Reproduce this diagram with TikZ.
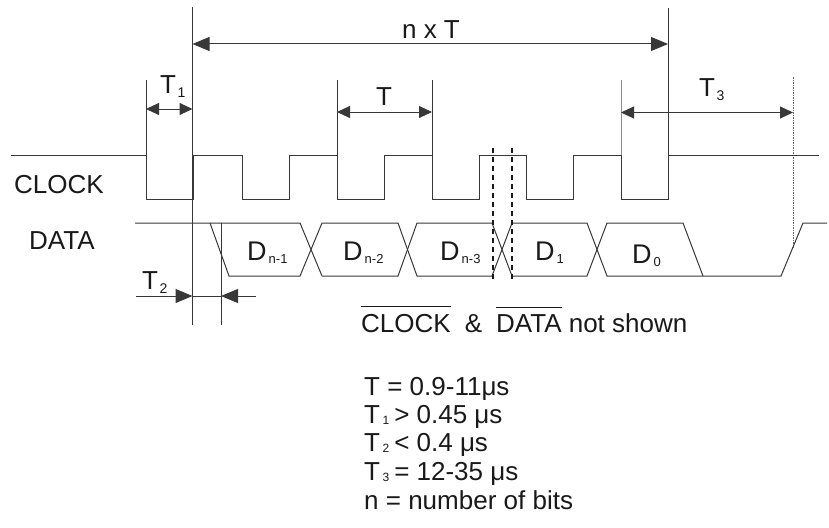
\documentclass[tikz,border=0pt]{standalone}
\usepackage{fontspec}
\setmainfont{Liberation Sans}
\usetikzlibrary{arrows.meta}
\newcommand\lblf{\fontsize{26pt}{30pt}\selectfont}
\newcommand\dlf{\fontsize{27pt}{30pt}\selectfont}
\newcommand\subA[1]{\kern1.5pt\raisebox{-4pt}{\fontsize{14pt}{14pt}\selectfont #1}}
\newcommand\subD[1]{\kern2pt\raisebox{-3.5pt}{\fontsize{13pt}{13pt}\selectfont #1}}
\newcommand\subB[1]{\kern2.5pt\raisebox{-1.5pt}{\fontsize{12pt}{12pt}\selectfont #1}}
\newcommand\ovl[1]{\leavevmode\vbox{\hrule height 0.9pt\kern 6.5pt\hbox{#1}}}
\begin{document}
\begin{tikzpicture}[x=1pt,y=-1pt,
  ln/.style={draw=black!78,line width=1pt},
  light/.style={draw=black!45,line width=0.8pt},
  dotv/.style={draw=black!60,line width=0.9pt,dash pattern=on 1.5pt off 1pt},
  thickdash/.style={draw=black!90,line width=2pt,dash pattern=on 5pt off 4pt},
  dimbig/.style={ln,{Triangle[length=17pt,width=14pt]}-{Triangle[length=17pt,width=14pt]}},
  dimsm/.style={ln,{Triangle[length=13pt,width=12pt]}-{Triangle[length=13pt,width=12pt]}},
  tobig/.style={ln,-{Triangle[length=17pt,width=14pt]}},
  txt/.style={inner sep=0pt,text=black!90,font=\lblf},
  dtxt/.style={inner sep=0pt,text=black!90,font=\dlf}]
\useasboundingbox (0,0) rectangle (829,527);

% ---- guide coordinates ----
\coordinate (gA) at (146,80);
\coordinate (gBtop) at (192.5,7);
\coordinate (gBbot) at (192.5,325);
\coordinate (gCtop) at (221,223);
\coordinate (gCbot) at (221,325);
\coordinate (gD) at (337,80);
\coordinate (gE) at (432,80);
\coordinate (gF) at (621,80);
\coordinate (gGtop) at (668,8);
\coordinate (gHtop) at (793,77);
\coordinate (gHbot) at (793,248);

% ---- vertical guides ----
\draw[ln] (gA) -- (146,155);
\draw[ln] (gBtop) -- (gBbot);
\draw[ln] (gCtop) -- (gCbot);
\draw[ln] (gD) -- (337,155);
\draw[ln] (gE) -- (432,155);
\draw[light] (gF) -- (621,155);
\draw[ln] (gGtop) -- (668,155);
\draw[dotv] (gHtop) -- (gHbot);

% ---- clock ----
\draw[ln] (11,155) -- (146,155) -- (146,199) -- (193,199) -- (193,155)
  -- (242,155) -- (242,199) -- (289,199) -- (289,155)
  -- (337,155) -- (337,199) -- (384,199) -- (384,155)
  -- (432,155) -- (432,199) -- (479,199) -- (479,155)
  -- (526,155) -- (526,199) -- (573,199) -- (573,155)
  -- (621,155) -- (621,199) -- (668,199) -- (668,155) -- (819,155);

% ---- data ----
\draw[ln] (135,223) -- (300,223) -- (322,276);
\draw[ln] (210,223) -- (229,276) -- (300,276) -- (322,223) -- (398,223) -- (417,276) -- (492,276) -- (512,223) -- (587,223) -- (607,276) -- (781,276) -- (803,223) -- (827,223);
\draw[ln] (322,276) -- (398,276) -- (417,223) -- (492,223) -- (512,276) -- (587,276) -- (607,223) -- (683,223) -- (703,276);

% ---- dashed markers ----
\draw[thickdash] (493,148) -- (493,282);
\draw[thickdash] (512,148) -- (512,282);

% ---- dimension arrows ----
\coordinate (nL) at (192.5,44); \coordinate (nR) at (668,44);
\draw[dimbig] (nL) -- (nR);
\coordinate (t1L) at (146,109); \coordinate (t1R) at (192.5,109);
\draw[dimsm] (t1L) -- (t1R);
\coordinate (tL) at (337,112); \coordinate (tR) at (432,112);
\draw[dimsm] (tL) -- (tR);
\coordinate (t3L) at (621,112.5); \coordinate (t3R) at (793,112.5);
\draw[dimsm] (t3L) -- (t3R);
\coordinate (t2a) at (136,296); \coordinate (t2b) at (192.5,296);
\coordinate (t2c) at (221,296); \coordinate (t2d) at (256,296);
\draw[tobig] (t2a) -- (t2b);
\draw[ln] (t2b) -- (t2c);
\draw[tobig] (t2d) -- (t2c);

% ---- labels ----
\node[txt,anchor=base] (lnT) at (431,38) {n x T};
\node[txt,anchor=base west] (lT1) at (160,93) {T\subA{1}};
\node[txt,anchor=base] (lT) at (384,105) {T};
\node[txt,anchor=base west] (lT3) at (699,96) {T\subA{3}};
\node[txt,anchor=base west] (lT2) at (142,289) {T\subA{2}};
\node[txt,anchor=base east] (lclk) at (104,193) {CLOCK};
\node[txt,anchor=base west] (ldat) at (29,249) {DATA};

\node[dtxt,anchor=base west] (d1) at (247,260) {D\subD{n-1}};
\node[dtxt,anchor=base west] (d2) at (343,260) {D\subD{n-2}};
\node[dtxt,anchor=base west] (d3) at (440,260) {D\subD{n-3}};
\node[dtxt,anchor=base west] (d4) at (535,260) {D\subD{1}};
\node[dtxt,anchor=base west] (d5) at (632,263) {D\subD{0}};

\node[txt,anchor=base west] (note) at (361,332) {\ovl{CLOCK}\hspace{14pt}\&\hspace{14pt}\ovl{DATA} not shown};
\node[txt,anchor=base west] (e1) at (364,395) {T = 0.9-11μs};
\node[txt,anchor=base west] (e2) at (364,423) {T\subB{1}\kern5pt> 0.45 μs};
\node[txt,anchor=base west] (e3) at (364,451) {T\subB{2}\kern5pt< 0.4 μs};
\node[txt,anchor=base west] (e4) at (364,480) {T\subB{3}\kern5pt= 12-35 μs};
\node[txt,anchor=base west] (e5) at (364,509) {n = number of bits};
\end{tikzpicture}
\end{document}
